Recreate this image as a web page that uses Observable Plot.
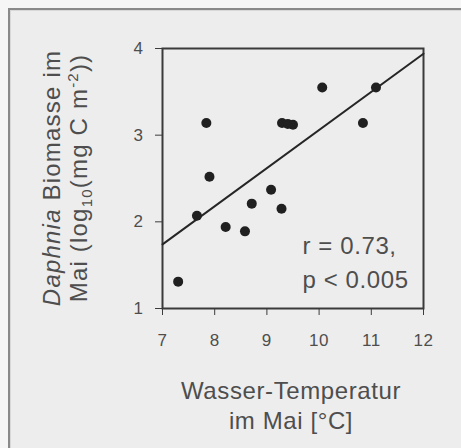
<!DOCTYPE html>
<html>
<head>
<meta charset="utf-8">
<script src="https://cdn.jsdelivr.net/npm/d3@7"></script>
<script src="https://cdn.jsdelivr.net/npm/@observablehq/plot@0.6"></script>
<style>
  html, body { margin: 0; padding: 0; background: #f6f6f6; width: 461px; height: 448px; overflow: hidden; }
  #frame { position: absolute; left: 8px; top: 8px; width: 470px; height: 460px;
           border-left: 2px solid #8a8a8a; border-top: 2px solid #8a8a8a;
           box-shadow: inset 1px 1px 0 #d8d8d8; background: #ededed; }
  #chart { position: absolute; left: 0; top: 0; }
</style>
</head>
<body>
<div id="frame"></div>
<div id="chart"></div>
<script>
// Water temperature in May (°C)
const temperature = [7.30, 7.66, 7.84, 7.90, 8.21, 8.58, 8.71, 9.08, 9.28, 9.29, 9.40, 9.50, 10.06, 10.84, 11.09];
// Daphnia biomass in May (log10 mg C m^-2)
const biomass = [1.31, 2.07, 3.14, 2.52, 1.94, 1.89, 2.21, 2.37, 2.15, 3.14, 3.13, 3.12, 3.55, 3.14, 3.55];
// Regression line end points
const fitX = [7, 12];
const fitY = [1.74, 3.94];
// Ticks
const xTicks = [7, 8, 9, 10, 11, 12];
const yTicks = [1, 2, 3, 4];
// Texts
const xLabel = ["Wasser-Temperatur\nim Mai [°C]"];
const statText = ["r = 0.73,\np < 0.005"];

const points = temperature.map((t, i) => ({t, b: biomass[i]}));
const fit = fitX.map((x, i) => ({x, y: fitY[i]}));

const font = "'Liberation Sans', Arial, sans-serif";
const textColor = "#4e4e4e";

const plot = Plot.plot({
  width: 461,
  height: 448,
  marginLeft: 162,
  marginRight: 38,
  marginTop: 48,
  marginBottom: 140,
  style: { background: "transparent", fontFamily: font, fontSize: "17px", color: "#3c3c3c" },
  x: { domain: [7, 12], ticks: xTicks, tickFormat: d => String(d), tickSize: 7, tickPadding: 18, label: null },
  y: { domain: [1, 4], ticks: yTicks, tickFormat: d => String(d), tickSize: 7, tickPadding: 12, label: null },
  marks: [
    Plot.frame({ stroke: "#3a3a3a", strokeWidth: 2 }),
    Plot.line(fit, { x: "x", y: "y", stroke: "#262626", strokeWidth: 2 }),
    Plot.dot(points, { x: "t", y: "b", r: 5, fill: "#202020", stroke: "none" }),
    Plot.text(statText, {
      text: d => d, frameAnchor: "bottom-left", dx: 140, dy: -21,
      textAnchor: "start", lineAnchor: "bottom", lineHeight: 1.4,
      fontSize: 24, fill: textColor, fontFamily: font
    }),
    Plot.text(xLabel, {
      text: d => d, frameAnchor: "bottom", dx: -2, dy: 69,
      textAnchor: "middle", lineAnchor: "top", lineHeight: 1.25,
      fontSize: 24, fill: textColor, fontFamily: font
    })
  ]
});

// Tick label size, colour and spacing
d3.select(plot).selectAll("g[aria-label*='axis'] text")
  .style("font-size", "17px").attr("fill", "#4e4e4e");
d3.select(plot).selectAll("text").style("letter-spacing", "0.6px");

// Rotated y-axis label with italic genus name, subscript and superscript
const yl = d3.select(plot).append("g")
  .attr("font-family", font).attr("font-size", 24).attr("fill", textColor)
  .style("letter-spacing", "1.2px");
const l1 = yl.append("text").attr("text-anchor", "middle")
  .attr("transform", "translate(60,178) rotate(-90)");
l1.append("tspan").attr("font-style", "italic").text("Daphnia");
l1.append("tspan").text(" Biomasse im");
const l2 = yl.append("text").attr("text-anchor", "middle")
  .attr("transform", "translate(87,178) rotate(-90)");
l2.append("tspan").text("Mai (log");
l2.append("tspan").attr("font-size", 15).attr("dy", 5).text("10");
l2.append("tspan").attr("dy", -5).text("(mg C m");
l2.append("tspan").attr("font-size", 15).attr("dy", -9).text("-2");
l2.append("tspan").attr("dy", 9).text("))");

document.getElementById("chart").appendChild(plot);
</script>
</body>
</html>
